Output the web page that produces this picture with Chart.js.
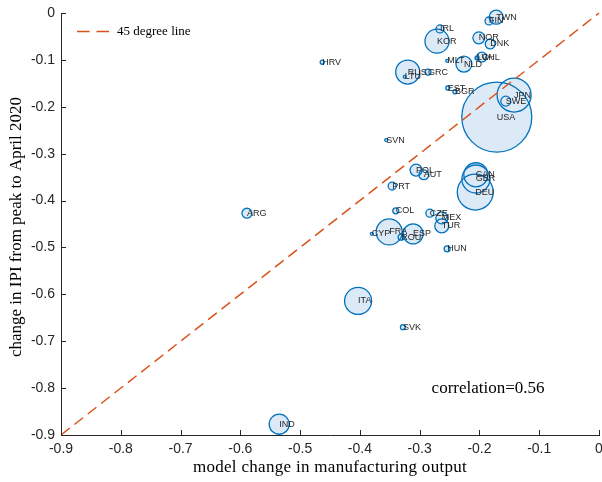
<!DOCTYPE html>
<html>
<head>
<meta charset="utf-8">
<script src="https://cdn.jsdelivr.net/npm/chart.js@4"></script>
<style>
html, body { margin: 0; padding: 0; background: #fff; }
</style>
</head>
<body>
<canvas id="grafico" width="602" height="482"></canvas>
<script>
// Datos
const paises = ["TWN","FIN","IRL","KOR","NOR","DNK","MLT","NLD","LVA","CHL","RUS","LTU","GRC","EST","BGR","JPN","SWE","USA","HRV","SVN","POL","AUT","PRT","CAN","GBR","DEU","COL","CZE","MEX","TUR","CYP","FRA","ROU","ESP","HUN","ARG","ITA","SVK","IND"];
const cambioModelo = [-0.172,-0.184,-0.266,-0.271,-0.201,-0.182,-0.254,-0.226,-0.204,-0.196,-0.320,-0.325,-0.286,-0.253,-0.241,-0.142,-0.156,-0.171,-0.463,-0.356,-0.306,-0.293,-0.346,-0.206,-0.206,-0.207,-0.340,-0.283,-0.263,-0.263,-0.380,-0.351,-0.331,-0.311,-0.254,-0.589,-0.403,-0.328,-0.535];
const cambioIPI = [-0.009,-0.017,-0.034,-0.060,-0.053,-0.066,-0.102,-0.109,-0.096,-0.094,-0.126,-0.136,-0.126,-0.160,-0.168,-0.175,-0.188,-0.222,-0.105,-0.271,-0.335,-0.345,-0.369,-0.345,-0.354,-0.382,-0.422,-0.427,-0.437,-0.454,-0.471,-0.467,-0.478,-0.471,-0.503,-0.427,-0.614,-0.670,-0.877];
// peso de cada país (USA = 100), da el área de la burbuja
const pesos = [4.0,1.3,1.3,11.8,2.9,2.0,0.18,5.2,0.33,2.0,11.8,0.18,0.73,0.33,0.33,23.6,2.0,100,0.33,0.18,2.9,2.0,1.3,11.8,16,26.4,0.73,1.3,2.9,4.0,0.18,13.8,0.73,8.2,0.73,2.0,14.9,0.51,8.2];
const ticksEje = [-0.9,-0.8,-0.7,-0.6,-0.5,-0.4,-0.3,-0.2,-0.1,0];
const linea45 = [-0.9, 0];
const correlacion = "correlation=0.56";
const posCorrelacion = [-0.28, -0.8];

const radioMax = 35;
const burbujas = paises.map((p, i) => ({
    x: cambioModelo[i],
    y: cambioIPI[i],
    r: radioMax * Math.sqrt(pesos[i] / 100)
}));

const serif = "'Liberation Serif', 'Times New Roman', serif";
const sans = "'Liberation Sans', Arial, sans-serif";

// Textos, ticks hacia dentro y leyenda
const extras = {
    id: "extras",
    afterDatasetsDraw(chart) {
        const { ctx, chartArea: a } = chart;
        const ex = chart.scales.x, ey = chart.scales.y;
        ctx.save();

        ctx.strokeStyle = "#262626";
        ctx.lineWidth = 1;
        ticksEje.forEach(t => {
            const px = Math.round(ex.getPixelForValue(t)) + 0.5;
            ctx.beginPath(); ctx.moveTo(px, a.bottom); ctx.lineTo(px, a.bottom - 5); ctx.stroke();
            const py = Math.round(ey.getPixelForValue(t)) + 0.5;
            ctx.beginPath(); ctx.moveTo(a.left, py); ctx.lineTo(a.left + 5, py); ctx.stroke();
        });

        // nombres de países
        ctx.font = "9px " + sans;
        ctx.fillStyle = "#262626";
        ctx.textAlign = "left";
        ctx.textBaseline = "middle";
        paises.forEach((p, i) => {
            ctx.fillText(p, ex.getPixelForValue(cambioModelo[i]), ey.getPixelForValue(cambioIPI[i]));
        });

        // correlación
        ctx.font = "17px " + serif;
        ctx.fillStyle = "#000";
        ctx.fillText(correlacion, ex.getPixelForValue(posCorrelacion[0]), ey.getPixelForValue(posCorrelacion[1]));

        // leyenda
        ctx.strokeStyle = "#D95319";
        ctx.lineWidth = 1.5;
        ctx.setLineDash([12.5, 7]);
        ctx.beginPath(); ctx.moveTo(a.left + 16, a.top + 18.5); ctx.lineTo(a.left + 48, a.top + 18.5); ctx.stroke();
        ctx.setLineDash([]);
        ctx.font = "13px " + serif;
        ctx.fillStyle = "#000";
        ctx.fillText("45 degree line", a.left + 56, a.top + 18.5);

        // títulos de ejes
        ctx.textAlign = "center";
        ctx.font = "17px " + serif;
        ctx.letterSpacing = "0.3px";
        ctx.fillText("model change in manufacturing output", (a.left + a.right) / 2, 468);
        ctx.letterSpacing = "0px";
        ctx.translate(17, (a.top + a.bottom) / 2 + 3);
        ctx.rotate(-Math.PI / 2);
        ctx.fillText("change in IPI from peak to April 2020", 0, 0);

        ctx.restore();
    }
};

const formatoTick = v => {
    const r = Math.round(v * 10) / 10;
    return r === 0 ? "0" : r.toFixed(1);
};

new Chart(document.getElementById("grafico").getContext("2d"), {
    type: "bubble",
    data: {
        datasets: [
            {
                type: "line",
                data: linea45.map(v => ({ x: v, y: v })),
                borderColor: "#D95319",
                borderWidth: 1.5,
                borderDash: [11, 6],
                pointRadius: 0,
                fill: false,
                order: 0,
                clip: false
            },
            {
                // contornos
                data: burbujas,
                backgroundColor: "rgba(0,0,0,0)",
                borderColor: "#0072BD",
                borderWidth: 1.3,
                order: 1,
                clip: false
            },
            {
                // rellenos
                data: burbujas,
                backgroundColor: "#dce9f7",
                borderWidth: 0,
                order: 2,
                clip: false
            }
        ]
    },
    options: {
        responsive: false,
        animation: false,
        devicePixelRatio: 1,
        events: [],
        layout: { autoPadding: false, padding: { top: 13, right: 3, left: 0, bottom: 0 } },
        plugins: {
            legend: { display: false },
            tooltip: { enabled: false }
        },
        scales: {
            x: {
                type: "linear",
                min: -0.9,
                max: 0,
                afterBuildTicks: s => { s.ticks = ticksEje.map(v => ({ value: v })); },
                afterFit: s => { s.height = 47; s.paddingLeft = 0; s.paddingRight = 0; },
                grid: { display: false, drawTicks: false },
                border: { display: true, color: "#262626", width: 1 },
                ticks: {
                    color: "#262626",
                    padding: 6,
                    maxRotation: 0,
                    font: { family: sans, size: 14 },
                    callback: formatoTick
                }
            },
            y: {
                type: "linear",
                min: -0.9,
                max: 0,
                afterBuildTicks: s => { s.ticks = ticksEje.map(v => ({ value: v })); },
                afterFit: s => { s.width = 61; s.paddingTop = 0; s.paddingBottom = 0; },
                grid: { display: false, drawTicks: false },
                border: { display: true, color: "#262626", width: 1 },
                ticks: {
                    color: "#262626",
                    padding: 6,
                    font: { family: sans, size: 14 },
                    callback: formatoTick
                }
            }
        }
    },
    plugins: [extras]
});
</script>
</body>
</html>
